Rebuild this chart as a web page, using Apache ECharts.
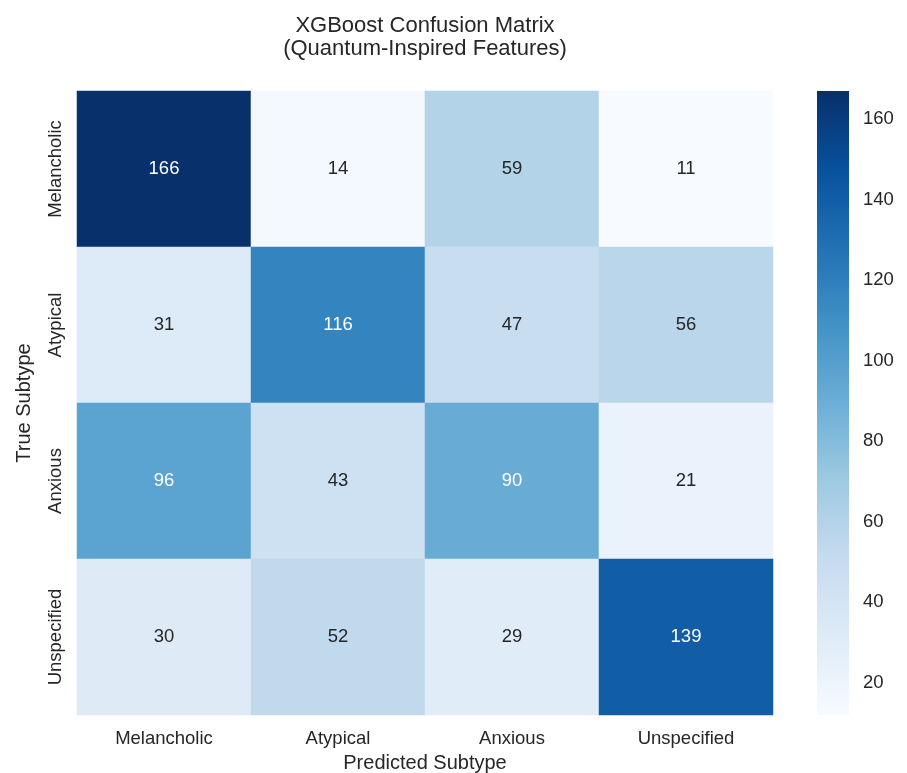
<!DOCTYPE html>
<html>
<head>
<meta charset="utf-8">
<script src="https://cdn.jsdelivr.net/npm/echarts@6/dist/echarts.min.js"></script>
<style>
  html, body { margin: 0; padding: 0; background: #ffffff; }
  #chart { width: 907px; height: 773px; }
</style>
</head>
<body>
<div id="chart"></div>
<script>
// Class labels (rows = true subtype, columns = predicted subtype)
const predictedLabels = ['Melancholic', 'Atypical', 'Anxious', 'Unspecified'];
const trueLabels = ['Melancholic', 'Atypical', 'Anxious', 'Unspecified'];

// Confusion-matrix counts, one array per true subtype
const rowMelancholic = [166, 14, 59, 11];
const rowAtypical = [31, 116, 47, 56];
const rowAnxious = [96, 43, 90, 21];
const rowUnspecified = [30, 52, 29, 139];

// Colour bar tick labels
const colorbarTicks = [20, 40, 60, 80, 100, 120, 140, 160];

const counts = [rowMelancholic, rowAtypical, rowAnxious, rowUnspecified];
const allValues = counts.flat();
const vMin = Math.min.apply(null, allValues);
const vMax = Math.max.apply(null, allValues);

// Sequential "Blues" palette
const BLUES = ['#f7fbff', '#deebf7', '#c6dbef', '#9ecae1', '#6baed6',
               '#4292c6', '#2171b5', '#08519c', '#08306b'];

function hexToRgb(h) {
  return [parseInt(h.slice(1, 3), 16), parseInt(h.slice(3, 5), 16), parseInt(h.slice(5, 7), 16)];
}
function bluesAt(t) {
  t = Math.max(0, Math.min(1, t));
  const pos = t * (BLUES.length - 1);
  const i = Math.min(Math.floor(pos), BLUES.length - 2);
  const f = pos - i;
  const a = hexToRgb(BLUES[i]), b = hexToRgb(BLUES[i + 1]);
  return [0, 1, 2].map(k => a[k] + (b[k] - a[k]) * f);
}
function luminance(rgb) {
  const lin = rgb.map(c => {
    c = c / 255;
    return c <= 0.03928 ? c / 12.92 : Math.pow((c + 0.055) / 1.055, 2.4);
  });
  return 0.2126 * lin[0] + 0.7152 * lin[1] + 0.0722 * lin[2];
}

const TEXT = '#262626';
const FONT = '"Liberation Sans", Arial, sans-serif';

const heatData = [];
counts.forEach((row, r) => {
  row.forEach((v, c) => {
    const lum = luminance(bluesAt((v - vMin) / (vMax - vMin)));
    heatData.push({
      value: [c, r, v],
      label: { color: lum < 0.408 ? '#ffffff' : TEXT }
    });
  });
});

const gridLeft = 77, gridTop = 91, gridWidth = 696, gridHeight = 624;

const chart = echarts.init(document.getElementById('chart'), null, { renderer: 'canvas' });

chart.setOption({
  backgroundColor: '#ffffff',
  animation: false,
  textStyle: { fontFamily: FONT, color: TEXT },
  graphic: [
    {
      type: 'text', x: gridLeft + gridWidth / 2, y: 25.5,
      style: { text: 'XGBoost Confusion Matrix', fill: TEXT, font: '22px ' + FONT,
               textAlign: 'center', textVerticalAlign: 'middle' }
    },
    {
      type: 'text', x: gridLeft + gridWidth / 2, y: 49,
      style: { text: '(Quantum-Inspired Features)', fill: TEXT, font: '22px ' + FONT,
               textAlign: 'center', textVerticalAlign: 'middle' }
    }
  ],
  grid: [
    { left: gridLeft, top: gridTop, width: gridWidth, height: gridHeight,
      containLabel: false, outerBoundsMode: 'none' },
    { left: 817, top: gridTop, width: 32, height: gridHeight,
      containLabel: false, outerBoundsMode: 'none' }
  ],
  xAxis: [
    {
      type: 'category', gridIndex: 0, data: predictedLabels,
      name: 'Predicted Subtype', nameLocation: 'middle', nameGap: 38,
      nameTextStyle: { fontSize: 20, color: TEXT, fontFamily: FONT },
      axisLine: { show: false }, axisTick: { show: false }, splitLine: { show: false },
      axisLabel: { fontSize: 18.5, color: TEXT, margin: 14, fontFamily: FONT }
    },
    {
      type: 'category', gridIndex: 1, data: ['bar'], show: false
    }
  ],
  yAxis: [
    {
      type: 'category', gridIndex: 0, data: trueLabels, inverse: true,
      name: 'True Subtype', nameLocation: 'middle', nameGap: 43,
      nameTextStyle: { fontSize: 20, color: TEXT, fontFamily: FONT },
      axisLine: { show: false }, axisTick: { show: false }, splitLine: { show: false },
      axisLabel: { fontSize: 18.5, color: TEXT, rotate: 90, margin: 12, fontFamily: FONT }
    },
    {
      type: 'value', gridIndex: 1, position: 'right', min: vMin, max: vMax,
      axisLine: { show: false }, axisTick: { show: false }, splitLine: { show: false },
      axisLabel: {
        fontSize: 18.5, color: TEXT, margin: 14, fontFamily: FONT,
        verticalAlign: 'top', lineHeight: 8,
        customValues: colorbarTicks
      }
    }
  ],
  visualMap: {
    show: false, type: 'continuous', min: vMin, max: vMax,
    dimension: 2, seriesIndex: 0,
    inRange: { color: BLUES }
  },
  series: [
    {
      type: 'heatmap', xAxisIndex: 0, yAxisIndex: 0,
      data: heatData,
      label: { show: true, fontSize: 18.5, fontFamily: FONT },
      itemStyle: { borderWidth: 0 },
      emphasis: { disabled: true }
    },
    {
      // colour bar drawn along the value axis of the second grid
      type: 'custom', xAxisIndex: 1, yAxisIndex: 1,
      data: [[0, vMin, vMax]],
      silent: true,
      renderItem: function (params, api) {
        const top = api.coord([0, api.value(2)]);
        const bottom = api.coord([0, api.value(1)]);
        const cs = params.coordSys;
        const stops = BLUES.slice().reverse().map((c, i) => ({ offset: i / (BLUES.length - 1), color: c }));
        return {
          type: 'rect',
          shape: { x: cs.x, y: top[1], width: cs.width, height: bottom[1] - top[1] },
          style: {
            fill: new echarts.graphic.LinearGradient(0, 0, 0, 1, stops)
          }
        };
      }
    }
  ]
});
</script>
</body>
</html>
